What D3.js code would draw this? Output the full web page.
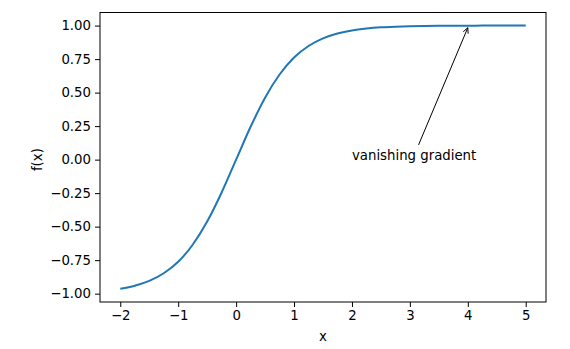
<!DOCTYPE html>
<html>
<head>
<meta charset="utf-8">
<script src="https://cdn.jsdelivr.net/npm/d3@7"></script>
<style>
  body { margin: 0; background: #fff; }
  text { font-family: "DejaVu Sans", sans-serif; fill: #000; }
</style>
</head>
<body>
<div id="chart"></div>
<script>
// values
const xs = [-2, -1.75, -1.5, -1.25, -1, -0.75, -0.5, -0.25, 0, 0.25, 0.5, 0.75, 1, 1.25, 1.5, 1.75,
            2, 2.25, 2.5, 2.75, 3, 3.25, 3.5, 3.75, 4, 4.25, 4.5, 4.75, 5];
const ys = [-0.964, -0.941, -0.905, -0.848, -0.762, -0.635, -0.462, -0.245, 0, 0.245, 0.462, 0.635, 0.762, 0.848, 0.905, 0.941,
            0.964, 0.978, 0.987, 0.992, 0.995, 0.997, 0.998, 0.999, 0.999, 1.0, 1.0, 1.0, 1.0];
const xTicks = [-2, -1, 0, 1, 2, 3, 4, 5];
const yTicks = [-1, -0.75, -0.5, -0.25, 0, 0.25, 0.5, 0.75, 1];
const noteText = "vanishing gradient";
const noteAt = [4, 0.999];     // arrow tip
const noteFrom = [2, 0];       // text anchor
const noteTail = [3.15, 0.11]; // arrow tail

const width = 570, height = 349;
const margin = {top: 12.5, right: 24, bottom: 47, left: 100};
const fs = 13.3;

const svg = d3.select("#chart").append("svg")
  .attr("width", width).attr("height", height);

const x = d3.scaleLinear().domain([-2.35, 5.35]).range([margin.left, width - margin.right]);
const y = d3.scaleLinear().domain([-1.0622, 1.0977]).range([height - margin.bottom, margin.top]);

const xAxis = d3.axisBottom(x).tickValues(xTicks).tickSize(5).tickPadding(4)
  .tickFormat(d => d < 0 ? "\u2212" + Math.abs(d) : d);
const yAxis = d3.axisLeft(y).tickValues(yTicks).tickSize(5).tickPadding(4)
  .tickFormat(d => (d < 0 ? "\u2212" : "") + Math.abs(d).toFixed(2));

const gx = svg.append("g").attr("transform", `translate(0,${height - margin.bottom})`).call(xAxis);
const gy = svg.append("g").attr("transform", `translate(${margin.left},0)`).call(yAxis);
[gx, gy].forEach(g => {
  g.select(".domain").remove();
  g.selectAll("line").attr("stroke", "#000").attr("stroke-width", 1);
  g.selectAll("text").attr("font-size", fs).attr("font-family", "DejaVu Sans").attr("fill", "#000");
});

// frame
svg.append("rect")
  .attr("x", margin.left).attr("y", margin.top)
  .attr("width", width - margin.right - margin.left)
  .attr("height", height - margin.bottom - margin.top)
  .attr("fill", "none").attr("stroke", "#000").attr("stroke-width", 1);

const line = d3.line().x((d, i) => x(xs[i])).y(d => y(d)).curve(d3.curveMonotoneX);
svg.append("path").datum(ys)
  .attr("d", line)
  .attr("fill", "none").attr("stroke", "#1f77b4").attr("stroke-width", 2);

// annotation
svg.append("text")
  .attr("x", x(noteFrom[0])).attr("y", y(noteFrom[1]))
  .attr("font-size", fs).text(noteText);

const x1 = x(noteTail[0]), y1 = y(noteTail[1]);
const x2 = x(noteAt[0]), y2 = y(noteAt[1]) + 2;
svg.append("line").attr("x1", x1).attr("y1", y1).attr("x2", x2).attr("y2", y2)
  .attr("stroke", "#000").attr("stroke-width", 1);
const ang = Math.atan2(y1 - y2, x1 - x2);
const hl = 6, ha = 0.45;
svg.append("path")
  .attr("d", `M${x2 + hl * Math.cos(ang - ha)},${y2 + hl * Math.sin(ang - ha)}L${x2},${y2}L${x2 + hl * Math.cos(ang + ha)},${y2 + hl * Math.sin(ang + ha)}`)
  .attr("fill", "none").attr("stroke", "#000").attr("stroke-width", 1);

// axis labels
svg.append("text").attr("x", x(1.5)).attr("y", 341)
  .attr("text-anchor", "middle").attr("font-size", fs).text("x");
svg.append("text").attr("transform", `translate(42,${y(0)}) rotate(-90)`)
  .attr("text-anchor", "middle").attr("font-size", fs).text("f(x)");
</script>
</body>
</html>
